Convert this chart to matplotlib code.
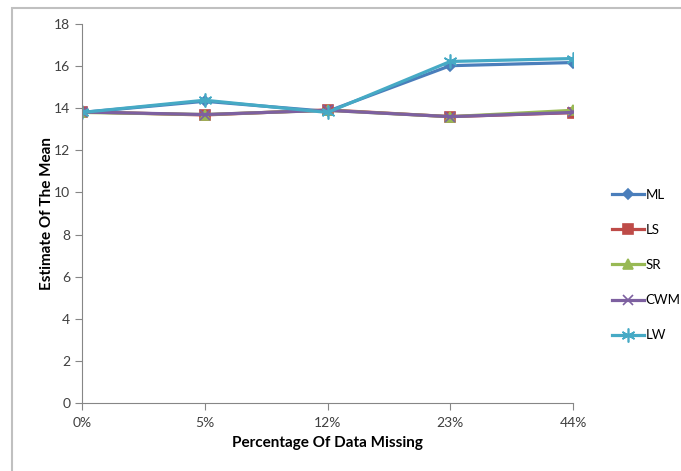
import matplotlib.pyplot as plt
from matplotlib.patches import Rectangle

plt.rcParams['font.family'] = ['Lato', 'DejaVu Sans']

# missing-data levels and the mean estimate from each method
pct_missing = ['0%', '5%', '12%', '23%', '44%']
ml = [13.8, 14.33, 13.85, 16.02, 16.17]
ls = [13.83, 13.68, 13.92, 13.6, 13.79]
sr = [13.8, 13.7, 13.9, 13.6, 13.9]
cwm = [13.82, 13.7, 13.9, 13.6, 13.8]
lw = [13.8, 14.38, 13.8, 16.22, 16.36]

series = [
    ('ML', ml, '#4a7ebb', 'D', 5),
    ('LS', ls, '#be4b48', 's', 7),
    ('SR', sr, '#98b954', '^', 7),
    ('CWM', cwm, '#7d60a0', 'x', 7),
    ('LW', lw, '#46aac5', (6, 2, 0), 10),
]

fig = plt.figure(figsize=(6.81, 4.71), dpi=100)
# outer chart frame
fig.patches.append(Rectangle((12 / 681, -0.05), 1.0, 1 - 8 / 471 + 0.05,
                             transform=fig.transFigure, fill=False,
                             edgecolor='#c0c0c0', linewidth=1.5))

ax = fig.add_axes([82 / 681, 1 - 403 / 471, (573 - 82) / 681, (403 - 24) / 471])
x = list(range(len(pct_missing)))
for name, vals, color, marker, ms in series:
    ax.plot(x, vals, color=color, linewidth=2.3, marker=marker, markersize=ms,
            markeredgecolor=color, markerfacecolor=color, markeredgewidth=1.2,
            label=name)

ax.set_xlim(0, len(pct_missing) - 1)
ax.set_ylim(0, 18)
ax.set_yticks(range(0, 19, 2))
ax.set_xticks(x)
ax.set_xticklabels(pct_missing)

for side in ['top', 'right']:
    ax.spines[side].set_visible(False)
for side in ['left', 'bottom']:
    ax.spines[side].set_color('#868686')
ax.tick_params(axis='both', colors='#868686', labelcolor='#404040', labelsize=10, length=5)
ax.tick_params(axis='x', pad=5)

ax.set_ylabel('Estimate Of The Mean', fontsize=11, fontweight='bold', labelpad=0)
ax.set_xlabel('Percentage Of Data Missing', fontsize=11, fontweight='bold', labelpad=5)

ax.legend(loc='center left', bbox_to_anchor=(1.055, 0.364), frameon=False,
          fontsize=9.5, handlelength=2.4, labelspacing=1.75, handletextpad=0.15)

fig.savefig('out.png', dpi=100)
